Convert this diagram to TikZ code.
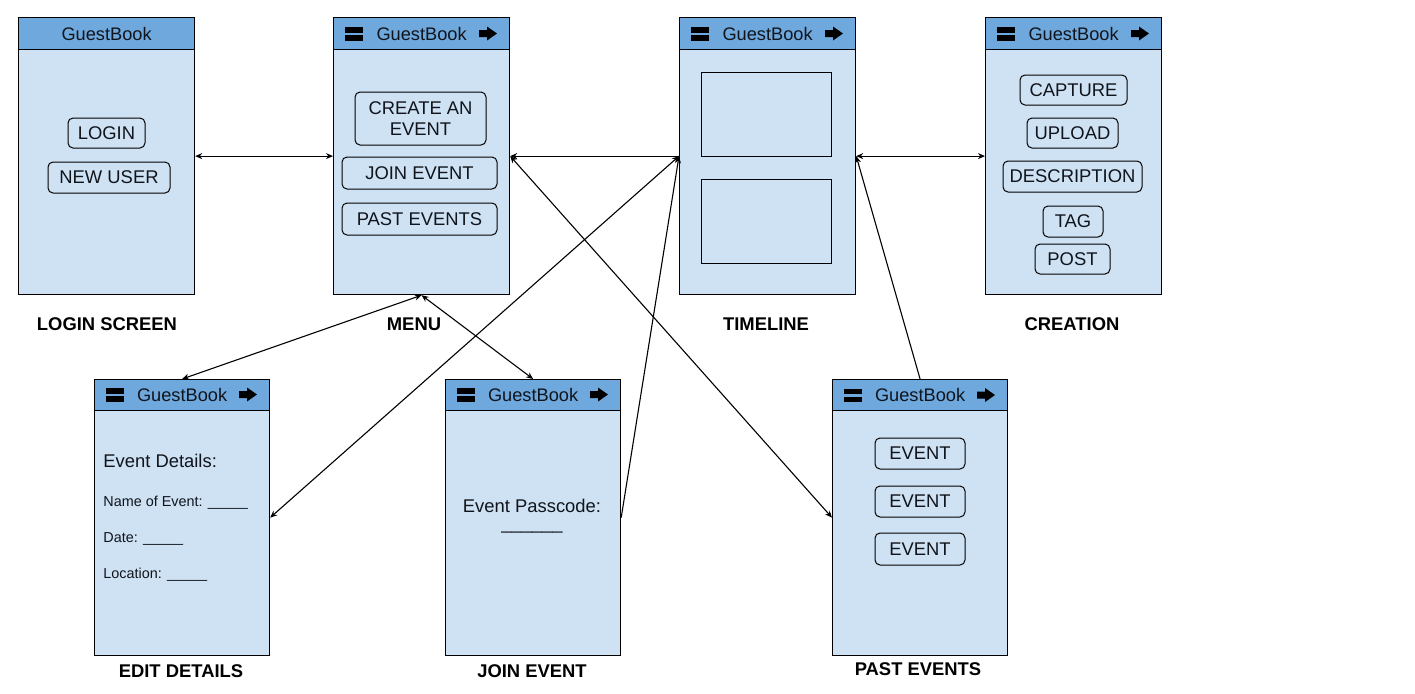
\documentclass[tikz,border=0pt]{standalone}
\usepackage{fontspec}
\setmainfont{Liberation Sans}
\usetikzlibrary{arrows.meta}
\definecolor{hdrblue}{HTML}{6FA8DC}
\definecolor{bodyblue}{HTML}{CFE2F3}
\definecolor{ink}{HTML}{10141C}
\newcommand\fsz[1]{\fontsize{#1}{#1}\selectfont}
\newcommand\hdricons[3]{%
  \fill[black] ({#1+12},{#3-6.5}) rectangle ({#1+30},{#3-1});
  \fill[black] ({#1+12},{#3+1.5}) rectangle ({#1+30},{#3+7});
  \fill[black] ({#2-30},{#3-3.5}) -- ({#2-22},{#3-3.5}) -- ({#2-22},{#3-7}) -- ({#2-12},{#3}) -- ({#2-22},{#3+7}) -- ({#2-22},{#3+3.5}) -- ({#2-30},{#3+3.5}) -- cycle;
}
\tikzset{
  screen/.style={draw=black, line width=0.6pt, fill=bodyblue, anchor=north west, inner sep=0pt},
  hdr/.style={draw=black, line width=0.6pt, fill=hdrblue, anchor=north west, inner sep=0pt, text=ink, font=\fsz{9.1pt}},
  btn/.style={draw=black, line width=0.5pt, rounded corners=2.5pt, inner sep=0pt, align=center, text=ink, font=\fsz{9.2pt}},
  box/.style={draw=black, line width=0.5pt, anchor=north west, inner sep=0pt},
  lbl/.style={font=\bfseries\fsz{9.2pt}, text=black},
  txt/.style={text=ink, anchor=west, inner sep=0pt},
  conn/.style={line width=0.55pt, black},
  tip/.style={arrows={-Stealth[length=3.5pt,width=3pt]}},
  tips/.style={arrows={Stealth[length=3.5pt,width=3pt]-Stealth[length=3.5pt,width=3pt]}}
}
\begin{document}
\begin{tikzpicture}[x=0.5pt,y=-0.5pt]
\useasboundingbox (0,0) rectangle (1415,693);
% ---- top row screens
\node[screen, minimum width=88pt, minimum height=138.5pt] (login) at (18,17) {};
\node[hdr, minimum width=88pt, minimum height=16pt] (loginh) at (18,17) {GuestBook};
\node[screen, minimum width=88pt, minimum height=138.5pt] (menu) at (333,17) {};
\node[hdr, minimum width=88pt, minimum height=16pt] (menuh) at (333,17) {GuestBook};
\hdricons{333}{509}{33.5}
\node[screen, minimum width=88pt, minimum height=138.5pt] (timeline) at (679,17) {};
\node[hdr, minimum width=88pt, minimum height=16pt] (timelineh) at (679,17) {GuestBook};
\hdricons{679}{855}{33.5}
\node[screen, minimum width=88pt, minimum height=138.5pt] (creation) at (985,17) {};
\node[hdr, minimum width=88pt, minimum height=16pt] (creationh) at (985,17) {GuestBook};
\hdricons{985}{1161}{33.5}
% ---- bottom row screens
\node[screen, minimum width=87.5pt, minimum height=138pt] (edit) at (94,379) {};
\node[hdr, minimum width=87.5pt, minimum height=15.5pt] (edith) at (94,379) {GuestBook};
\hdricons{94}{269}{394.5}
\node[screen, minimum width=87.5pt, minimum height=138pt] (join) at (445,379) {};
\node[hdr, minimum width=87.5pt, minimum height=15.5pt] (joinh) at (445,379) {GuestBook};
\hdricons{445}{620}{394.5}
\node[screen, minimum width=87.5pt, minimum height=138pt] (past) at (832,379) {};
\node[hdr, minimum width=87.5pt, minimum height=15.5pt] (pasth) at (832,379) {GuestBook};
\hdricons{832}{1007}{395}
% ---- login content
\node[btn, minimum width=38.5pt, minimum height=15pt] (blogin) at (106.5,133) {LOGIN};
\node[btn, minimum width=61pt, minimum height=15.5pt] (bnew) at (109,177.5) {NEW USER};
% ---- menu content
\node[btn, minimum width=65.5pt, minimum height=26.5pt] (bcreate) at (420.5,118.5) {CREATE AN\\[1pt]EVENT};
\node[btn, minimum width=77.5pt, minimum height=16pt] (bjoin) at (419.5,173) {JOIN EVENT};
\node[btn, minimum width=77.5pt, minimum height=16pt] (bpast) at (419.5,219) {PAST EVENTS};
% ---- timeline content
\node[box, minimum width=65pt, minimum height=42pt] (post1) at (701,72) {};
\node[box, minimum width=65pt, minimum height=42pt] (post2) at (701,179) {};
% ---- creation content
\node[btn, minimum width=53.5pt, minimum height=15pt] (bcapture) at (1073.5,90) {CAPTURE};
\node[btn, minimum width=45.5pt, minimum height=15pt] (bupload) at (1072.5,133) {UPLOAD};
\node[btn, minimum width=69.5pt, minimum height=15.5pt] (bdesc) at (1072.5,176.5) {DESCRIPTION};
\node[btn, minimum width=30pt, minimum height=15.5pt] (btag) at (1073,221.5) {TAG};
\node[btn, minimum width=37.5pt, minimum height=15pt] (bpost) at (1072.5,259) {POST};
% ---- edit details content
\node[txt, font=\fsz{9.2pt}] (evdet) at (103,461) {Event Details:};
\node[txt, font=\fsz{7.2pt}] (evname) at (103,503) {Name of Event: \_\_\_\_\_};
\node[txt, font=\fsz{7.2pt}] (evdate) at (103,539) {Date: \_\_\_\_\_};
\node[txt, font=\fsz{7.2pt}] (evloc) at (103,575) {Location: \_\_\_\_\_};
% ---- join content
\node[text=ink, font=\fsz{9.2pt}, inner sep=0pt] (passcode) at (532,506) {Event Passcode:};
\node[text=ink, font=\fsz{9.2pt}, inner sep=0pt] (passline) at (532,531) {\_\_\_\_\_\_};
% ---- past events content
\node[btn, minimum width=45pt, minimum height=15.5pt] (ev1) at (920,453.5) {EVENT};
\node[btn, minimum width=45pt, minimum height=15.5pt] (ev2) at (920,501.5) {EVENT};
\node[btn, minimum width=45pt, minimum height=16pt] (ev3) at (920,549) {EVENT};
% ---- labels
\node[lbl] (llogin) at (107,324) {LOGIN SCREEN};
\node[lbl] (lmenu) at (414,324) {MENU};
\node[lbl] (ltimeline) at (766,324) {TIMELINE};
\node[lbl] (lcreation) at (1072,324) {CREATION};
\node[lbl] (ledit) at (181,671) {EDIT DETAILS};
\node[lbl] (ljoin) at (532,671) {JOIN EVENT};
\node[lbl] (lpast) at (918,669) {PAST EVENTS};
% ---- connectors
\draw[conn, tips] (login.east) -- (menu.west);
\draw[conn, tip] (timeline.west) -- (menu.east);
\draw[conn, tips] (timeline.east) -- (creation.west);
\draw[conn, tips] (menu.south) -- (edit.north);
\draw[conn, tips] (menu.south) -- (join.north);
\draw[conn, tips] (timeline.west) -- (edit.east);
\draw[conn, tip] (join.east) -- (timeline.west);
\draw[conn, tips] (menu.east) -- (past.west);
\draw[conn, tip] (past.north) -- (timeline.east);
\end{tikzpicture}
\end{document}
